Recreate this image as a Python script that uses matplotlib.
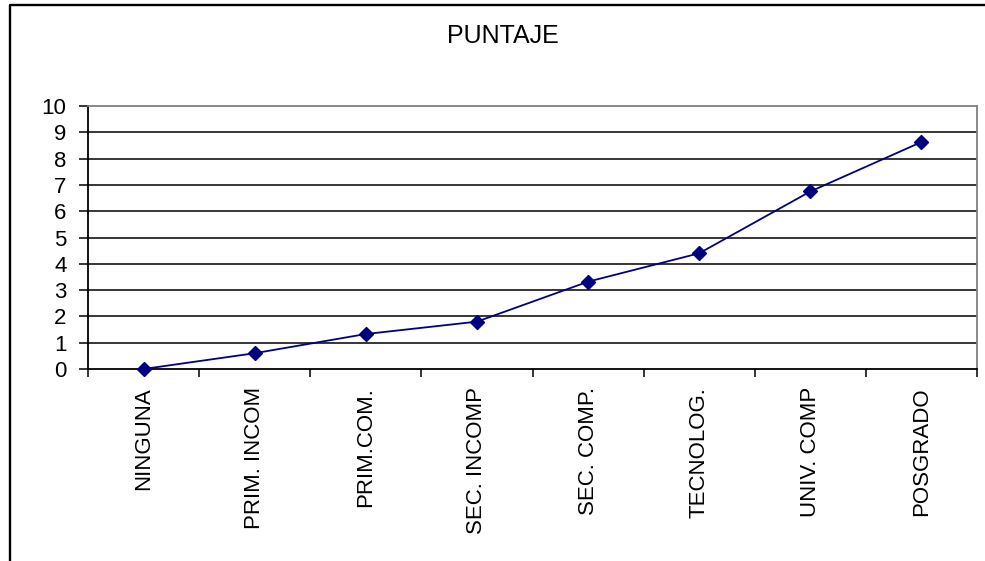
import matplotlib
matplotlib.use("Agg")
import matplotlib.pyplot as plt
from matplotlib.lines import Line2D
import numpy as np

categories = ["NINGUNA", "PRIM. INCOM", "PRIM.COM.", "SEC. INCOMP", "SEC. COMP.",
              "TECNOLOG.", "UNIV. COMP", "POSGRADO"]
puntaje = [0.0, 0.6, 1.33, 1.8, 3.32, 4.4, 6.75, 8.63]
y_ticks = list(range(0, 11))
title = "PUNTAJE"

plt.rcParams['font.family'] = ['Liberation Sans', 'DejaVu Sans']

W, H = 985, 561
fig = plt.figure(figsize=(W / 100, H / 100), dpi=100)
fig.patch.set_facecolor("white")

# outer chart border (left and top edges visible)
fig.add_artist(Line2D([10 / W, 10 / W, 1.0], [0.0, 1 - 5 / H, 1 - 5 / H],
                      transform=fig.transFigure, color="black", lw=1.7))

left, right, top, bottom = 88, 977, 106, 369
ax = fig.add_axes([left / W, 1 - bottom / H, (right - left) / W, (bottom - top) / H])

x = np.arange(len(categories))
ax.plot(x, puntaje, color="#000080", lw=1.3, marker="D", markersize=7,
        markerfacecolor="#000080", markeredgecolor="#000080", zorder=5, clip_on=False)

ax.set_xlim(-0.5, len(categories) - 0.5)
ax.set_ylim(0, 10)
ax.set_yticks(y_ticks)
ax.set_yticklabels([str(v) for v in y_ticks], fontsize=16)
for v in y_ticks[1:-1]:
    ax.axhline(v, color="black", lw=1.1, zorder=1)

ax.set_xticks(np.arange(-0.5, len(categories) + 0.5, 1.0))
ax.set_xticklabels([])
ax.set_xticks(x, minor=True)
ax.set_xticklabels(categories, minor=True, rotation=90, fontsize=16)
ax.tick_params(axis="x", which="major", direction="out", length=5.5, width=1.1, color="black")
ax.tick_params(axis="x", which="minor", length=0, pad=13)
ax.tick_params(axis="y", direction="out", length=6.5, width=1.1, color="black", pad=9)

for s in ["top", "right"]:
    ax.spines[s].set_color("#808080")
    ax.spines[s].set_linewidth(1.3)
for s in ["left", "bottom"]:
    ax.spines[s].set_color("black")
    ax.spines[s].set_linewidth(1.3)

fig.text(503 / W, 1 - 36 / H, title, ha="center", va="center", fontsize=18)

fig.savefig("out.png", dpi=100, facecolor="white")
